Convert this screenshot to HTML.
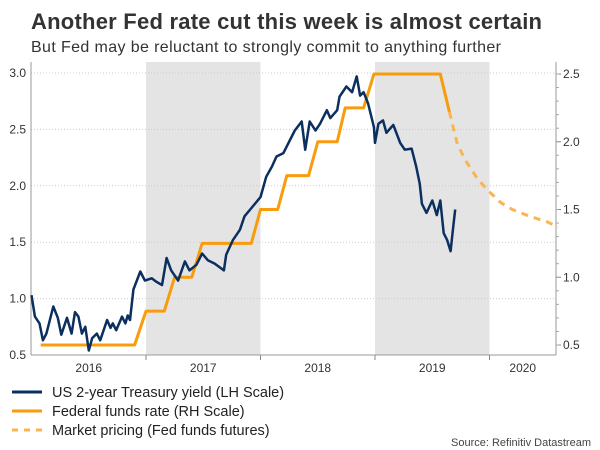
<!DOCTYPE html>
<html><head><meta charset="utf-8"><style>
body{margin:0;background:#fff;}
svg{display:block;font-family:"Liberation Sans",Arial,sans-serif;}
</style></head><body>
<svg id="chart" width="600" height="450" viewBox="0 0 600 450">
<text x="31" y="29" font-size="22" font-weight="bold" fill="#333" textLength="511">Another Fed rate cut this week is almost certain</text>
<text x="31" y="52" font-size="16" fill="#333" textLength="470">But Fed may be reluctant to strongly commit to anything further</text>
<g id="bands"></g><g id="grid"></g><g id="axes"></g><g id="series"></g>
<g>
<line x1="12" y1="392" x2="42" y2="392" stroke="#0b2f5e" stroke-width="3"/>
<text x="52" y="397" font-size="14.5" fill="#222">US 2-year Treasury yield (LH Scale)</text>
<line x1="12" y1="411" x2="42" y2="411" stroke="#f89c0e" stroke-width="3"/>
<text x="52" y="416" font-size="14.5" fill="#222">Federal funds rate (RH Scale)</text>
<line x1="12" y1="430" x2="42" y2="430" stroke="#fbb450" stroke-width="3" stroke-dasharray="6,6"/>
<text x="52" y="435" font-size="14.5" fill="#222">Market pricing (Fed funds futures)</text>
</g>
<text x="591" y="446" font-size="11" fill="#444" text-anchor="end">Source: Refinitiv Datastream</text>
</svg>
<script>
const years=[2016,2017,2018,2019,2020];
const leftTicks=[0.5,1.0,1.5,2.0,2.5,3.0];
const rightTicks=[0.5,1.0,1.5,2.0,2.5];
const yieldDates=[2016.0,2016.03,2016.07,2016.10,2016.13,2016.19,2016.23,2016.26,2016.31,2016.35,2016.38,2016.41,2016.44,2016.47,2016.50,2016.53,2016.57,2016.60,2016.66,2016.69,2016.71,2016.74,2016.79,2016.82,2016.84,2016.86,2016.89,2016.95,2016.99,2017.05,2017.09,2017.14,2017.18,2017.22,2017.28,2017.34,2017.38,2017.44,2017.49,2017.54,2017.60,2017.68,2017.70,2017.76,2017.82,2017.86,2017.91,2018.00,2018.05,2018.10,2018.14,2018.20,2018.23,2018.30,2018.36,2018.39,2018.43,2018.48,2018.52,2018.58,2018.61,2018.67,2018.69,2018.75,2018.80,2018.84,2018.87,2018.90,2018.94,2018.99,2019.00,2019.03,2019.07,2019.10,2019.16,2019.22,2019.26,2019.32,2019.36,2019.39,2019.41,2019.45,2019.50,2019.54,2019.57,2019.60,2019.63,2019.66,2019.68,2019.70];
const yieldValues=[1.03,0.84,0.78,0.63,0.69,0.93,0.83,0.68,0.83,0.69,0.88,0.84,0.69,0.75,0.54,0.65,0.69,0.63,0.81,0.74,0.78,0.72,0.84,0.78,0.85,0.81,1.08,1.24,1.16,1.18,1.15,1.12,1.36,1.25,1.16,1.33,1.25,1.30,1.40,1.34,1.31,1.25,1.39,1.52,1.61,1.73,1.79,1.90,2.08,2.17,2.26,2.29,2.35,2.49,2.57,2.32,2.57,2.49,2.55,2.67,2.60,2.67,2.79,2.88,2.83,2.97,2.80,2.83,2.73,2.52,2.38,2.55,2.58,2.47,2.54,2.38,2.32,2.33,2.17,2.02,1.84,1.76,1.87,1.74,1.87,1.58,1.52,1.42,1.61,1.79];
const fedDates=[2016.08,2016.90,2017.0,2017.16,2017.25,2017.40,2017.49,2017.92,2018.0,2018.15,2018.23,2018.42,2018.50,2018.67,2018.74,2018.90,2018.99,2019.57,2019.65];
const fedValues=[0.5,0.5,0.75,0.75,1.0,1.0,1.25,1.25,1.5,1.5,1.75,1.75,2.0,2.0,2.25,2.25,2.5,2.5,2.22];
const futDates=[2019.65,2019.72,2019.8,2019.9,2020.0,2020.1,2020.2,2020.35,2020.5,2020.6];
const futValues=[2.22,1.98,1.85,1.72,1.63,1.55,1.5,1.45,1.41,1.37];
const NS='http://www.w3.org/2000/svg';
const svg=document.getElementById('chart');
const X0=31.5,YW=114.5,L=31,R=556,T=62,B=355;
const x=d=>X0+(d-2016)*YW;
const yL=v=>355-(v-0.5)*112.8;
const yR=v=>345-(v-0.5)*135.5;
function mk(tag,attrs,parent){const e=document.createElementNS(NS,tag);for(const k in attrs)e.setAttribute(k,attrs[k]);parent.appendChild(e);return e;}
const bands=document.getElementById('bands'),grid=document.getElementById('grid'),axes=document.getElementById('axes'),series=document.getElementById('series');
years.forEach((yr,i)=>{
  if(i%2===1){const r=mk('rect',{x:x(yr),y:T,width:YW,height:B-T,fill:'#e4e4e4'},bands);
    
    }
  const cx=yr===2020?(x(yr)+R)/2:x(yr+0.5);
  const t=mk('text',{x:cx,y:372,'font-size':12,fill:'#333','text-anchor':'middle'},axes);
  t.textContent=yr;
  
  
  if(i>0){const tk=mk('line',{x1:x(yr),y1:B,x2:x(yr),y2:B+5,stroke:'#888'},axes);
    
    }
});
leftTicks.forEach(v=>{
  const g=mk('line',{x1:L,y1:yL(v),x2:R,y2:yL(v),stroke:'#ccc','stroke-dasharray':'1,2'},grid);
  
  
  const t=mk('text',{x:26,y:yL(v)+4,'font-size':12,fill:'#333','text-anchor':'end'},axes);
  t.textContent=v.toFixed(1);
  
  
});
rightTicks.forEach(v=>{
  const t=mk('text',{x:563,y:yR(v)+4,'font-size':12,fill:'#333'},axes);
  t.textContent=v.toFixed(1);
  
  
  const tk=mk('line',{x1:R,y1:yR(v),x2:R+5,y2:yR(v),stroke:'#888'},axes);
  
  
});
for(let v=0.5;v<=2.6;v+=0.1){const tk=mk('line',{x1:R,y1:yR(v),x2:R+3,y2:yR(v),stroke:'#aaa'},axes);
  
  }
let a=mk('line',{x1:L,y1:T,x2:L,y2:B,stroke:'#999'},axes);


a=mk('line',{x1:R,y1:T,x2:R,y2:B,stroke:'#999'},axes);


a=mk('line',{x1:L,y1:B,x2:R,y2:B,stroke:'#999'},axes);


const pts=(ds,vs,f)=>ds.map((d,i)=>x(d).toFixed(1)+','+f(vs[i]).toFixed(1)).join(' ');
let p=mk('polyline',{points:pts(futDates,futValues,yR),fill:'none',stroke:'#fbb450','stroke-width':3,'stroke-dasharray':'7,6'},series);


p=mk('polyline',{points:pts(fedDates,fedValues,yR),fill:'none',stroke:'#f89c0e','stroke-width':3,'stroke-linejoin':'round'},series);


p=mk('polyline',{points:pts(yieldDates,yieldValues,yL),fill:'none',stroke:'#0b2f5e','stroke-width':2.5,'stroke-linejoin':'round'},series);


</script>
</body></html>
